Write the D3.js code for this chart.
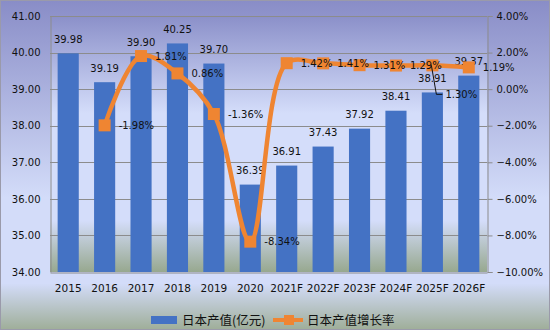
<!DOCTYPE html>
<html>
<head>
<meta charset="utf-8">
<script src="https://cdn.jsdelivr.net/npm/d3@7"></script>
<style>
  html, body { margin: 0; padding: 0; background: #fff; }
  svg { display: block; }
</style>
</head>
<body>
<svg id="chart" width="550" height="330"></svg>
<script>
// Japan output value (100M yuan) and its yearly growth rate
const years = ["2015", "2016", "2017", "2018", "2019", "2020", "2021F", "2022F", "2023F", "2024F", "2025F", "2026F"];
const outputValues = [39.98, 39.19, 39.90, 40.25, 39.70, 36.39, 36.91, 37.43, 37.92, 38.41, 38.91, 39.37];
const growthYears = ["2016", "2017", "2018", "2019", "2020", "2021F", "2022F", "2023F", "2024F", "2025F", "2026F"];
const growthRates = [-1.98, 1.81, 0.86, -1.36, -8.34, 1.42, 1.41, 1.31, 1.29, 1.30, 1.19];
const leftTicks = [34, 35, 36, 37, 38, 39, 40, 41];
const rightTicks = [-10, -8, -6, -4, -2, 0, 2, 4];
const seriesNames = ["日本产值(亿元)", "日本产值增长率"];

const W = 550, H = 330;
const plot = { left: 50, right: 487, top: 16, bottom: 272 };
const barColor = "#4472c4";
const lineColor = "#ef8532";
const gridColor = "#8c8c8c";
const font = "'DejaVu Sans', sans-serif";

const svg = d3.select("#chart");
const defs = svg.append("defs");

// chart-area background: lavender at top, pale blue in the middle, grey-green at the bottom
const bgGrad = defs.append("linearGradient").attr("id", "bgGrad")
  .attr("x1", 0).attr("y1", 0).attr("x2", 0).attr("y2", 1);
[[0, "#898dc7"], [0.6, "#d3dcf9"], [0.86, "#d3dcf9"], [1, "#9fae99"]]
  .forEach(([o, c]) => bgGrad.append("stop").attr("offset", o).attr("stop-color", c));

// plot-area background
const plotGrad = defs.append("linearGradient").attr("id", "plotGrad")
  .attr("x1", 0).attr("y1", 0).attr("x2", 0).attr("y2", 1);
[[0, "#8b90c9"], [0.38, "#d4ddfa"], [0.8, "#d4ddfa"], [1, "#97a88f"]]
  .forEach(([o, c]) => plotGrad.append("stop").attr("offset", o).attr("stop-color", c));

svg.append("rect").attr("x", 0.5).attr("y", 0.5).attr("width", W - 1).attr("height", H - 1)
  .attr("fill", "url(#bgGrad)").attr("stroke", "#9a9aaa");

svg.append("rect").attr("x", plot.left).attr("y", plot.top)
  .attr("width", plot.right - plot.left).attr("height", plot.bottom - plot.top)
  .attr("fill", "url(#plotGrad)");

const x = d3.scaleBand().domain(years).range([plot.left, plot.right]).paddingInner(0.42).paddingOuter(0.21);
const yL = d3.scaleLinear().domain([34, 41]).range([plot.bottom, plot.top]);
const yR = d3.scaleLinear().domain([-10, 4]).range([plot.bottom, plot.top]);
const cx = d => x(d) + x.bandwidth() / 2;

// horizontal gridlines
svg.append("g").selectAll("line").data(leftTicks.slice(1)).join("line")
  .attr("x1", plot.left).attr("x2", plot.right)
  .attr("y1", d => Math.round(yL(d)) + 0.5).attr("y2", d => Math.round(yL(d)) + 0.5)
  .attr("stroke", gridColor).attr("stroke-width", 1);

// left axis
const leftAxis = svg.append("g").attr("transform", `translate(${plot.left + 0.5},0)`)
  .call(d3.axisLeft(yL).tickValues(leftTicks).tickFormat(d3.format(".2f")).tickSize(0).tickPadding(10));
leftAxis.select(".domain").attr("stroke", gridColor);
leftAxis.selectAll("text").attr("font-family", font).attr("font-size", 10).attr("fill", "#111");

// right axis
const rightAxis = svg.append("g").attr("transform", `translate(${plot.right + 0.5},0)`)
  .call(d3.axisRight(yR).tickValues(rightTicks).tickFormat(d => d3.format(".2f")(d) + "%").tickSize(5).tickPadding(4));
rightAxis.selectAll(".domain, line").attr("stroke", gridColor);
rightAxis.selectAll("text").attr("font-family", font).attr("font-size", 10).attr("fill", "#111");

// bars
svg.append("g").selectAll("rect").data(years).join("rect")
  .attr("x", (d, i) => x(d))
  .attr("y", (d, i) => yL(outputValues[i]))
  .attr("width", x.bandwidth())
  .attr("height", (d, i) => yL(34) - yL(outputValues[i]))
  .attr("fill", barColor);

// bottom axis
const bottomAxis = svg.append("g").attr("transform", `translate(0,${plot.bottom + 0.5})`)
  .call(d3.axisBottom(x).tickSize(0).tickPadding(12));
bottomAxis.select(".domain").attr("stroke", gridColor);
bottomAxis.selectAll("text").attr("font-family", font).attr("font-size", 10.5).attr("fill", "#111");

// bar value labels
svg.append("g").selectAll("text").data(years).join("text")
  .attr("x", d => cx(d))
  .attr("y", (d, i) => yL(outputValues[i]) - 10.5)
  .attr("text-anchor", "middle")
  .attr("font-family", font).attr("font-size", 10).attr("fill", "#111")
  .text((d, i) => outputValues[i].toFixed(2));

// growth-rate smoothed line
const pts = growthYears.map((d, i) => [cx(d), yR(growthRates[i])]);
svg.append("path")
  .attr("d", d3.line().curve(d3.curveCatmullRom.alpha(0.5))(pts))
  .attr("fill", "none").attr("stroke", lineColor).attr("stroke-width", 4.5)
  .attr("stroke-linejoin", "round");

// square markers
const mk = 12;
svg.append("g").selectAll("rect").data(pts).join("rect")
  .attr("x", d => d[0] - mk / 2).attr("y", d => d[1] - mk / 2)
  .attr("width", mk).attr("height", mk).attr("fill", lineColor);

// growth-rate labels, right of each marker; the 2025F label sits lower with a leader line
const rateLabels = svg.append("g");
growthYears.forEach((d, i) => {
  const [px, py] = pts[i];
  const txt = growthRates[i].toFixed(2) + "%";
  if (d === "2025F") {
    const ly = py + 29;
    rateLabels.append("polyline")
      .attr("points", `${px - 1},${py} ${px + 4},${ly} ${px + 10},${ly}`)
      .attr("fill", "none").attr("stroke", "#111").attr("stroke-width", 1);
    rateLabels.append("text").attr("x", px + 13).attr("y", ly + 3.6)
      .attr("font-family", font).attr("font-size", 10).attr("fill", "#111").text(txt);
  } else {
    rateLabels.append("text").attr("x", px + 14).attr("y", py + 3.6)
      .attr("font-family", font).attr("font-size", 10).attr("fill", "#111").text(txt);
  }
});

// legend
const lg = svg.append("g").attr("transform", "translate(0,320)");
lg.append("rect").attr("x", 151).attr("y", -4).attr("width", 26).attr("height", 8).attr("fill", barColor);
lg.append("text").attr("x", 182).attr("y", 4.5)
  .attr("font-family", "'Noto Sans CJK SC', sans-serif").attr("font-size", 12.5).attr("fill", "#111")
  .text(seriesNames[0]);
lg.append("line").attr("x1", 273).attr("x2", 303).attr("y1", 0).attr("y2", 0)
  .attr("stroke", lineColor).attr("stroke-width", 4);
lg.append("rect").attr("x", 284).attr("y", -5).attr("width", 10).attr("height", 10).attr("fill", lineColor);
lg.append("text").attr("x", 307).attr("y", 4.5)
  .attr("font-family", "'Noto Sans CJK SC', sans-serif").attr("font-size", 12.5).attr("fill", "#111")
  .text(seriesNames[1]);
</script>
</body>
</html>
